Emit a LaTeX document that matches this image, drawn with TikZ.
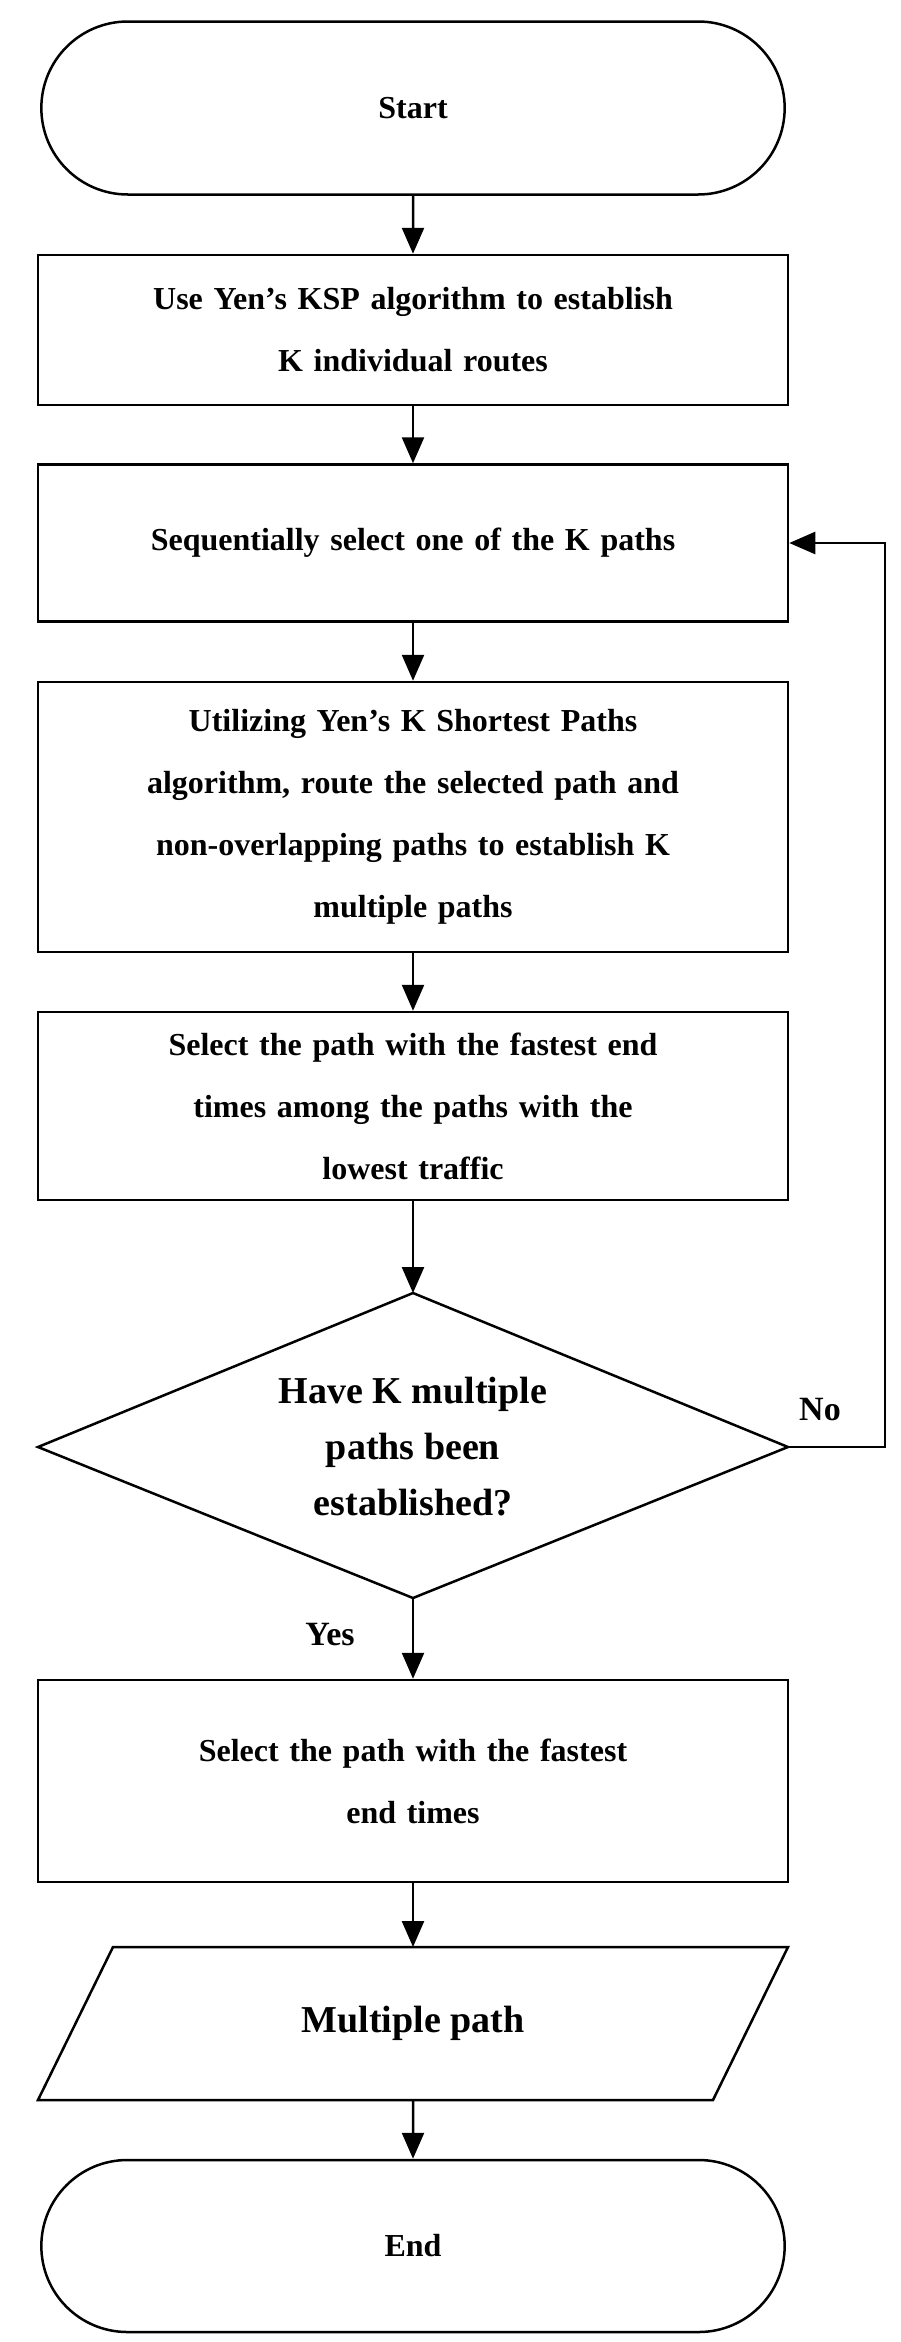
\documentclass[tikz,border=0pt]{standalone}
\usepackage{fontspec}
\setmainfont{Liberation Serif}
\usetikzlibrary{shapes.geometric,shapes.misc,arrows.meta}
\begin{document}
\begin{tikzpicture}[x=1pt,y=-1pt,
  every node/.style={font=\bfseries\fontsize{32}{62}\selectfont,align=center,draw,line width=2.5pt},
  box/.style={rectangle,minimum width=750pt,text width=700pt},
  arr/.style={line width=2.5pt,-{Triangle[length=26pt,width=22pt]}},
  lab/.style={draw=none,font=\bfseries\fontsize{34}{40}\selectfont}]
\useasboundingbox (0,0) rectangle (900,2342);
\node[rounded rectangle,minimum width=750pt,minimum height=173pt] (s) at (413,108) {Start};
\node[box,minimum height=150pt] (b1) at (413,330) {Use Yen’s KSP algorithm to establish\\K individual routes};
\node[box,minimum height=157pt] (b2) at (413,543) {Sequentially select one of the K paths};
\node[box,minimum height=270pt] (b3) at (413,817) {Utilizing Yen's K Shortest Paths\\algorithm, route the selected path and\\non-overlapping paths to establish K\\multiple paths};
\node[box,minimum height=188pt] (b4) at (413,1106) {Select the path with the fastest end\\times among the paths with the\\lowest traffic};
\draw[line width=2.5pt] (38,1447) -- (413,1293) -- (788,1447) -- (413,1598) -- cycle;
\node[draw=none,font=\bfseries\fontsize{38}{56}\selectfont] (d) at (413,1447) {Have K multiple\\paths been\\established?};
\coordinate (dt) at (413,1293); \coordinate (db) at (413,1598); \coordinate (dr) at (788,1447);
\node[box,minimum height=202pt] (b5) at (413,1781) {Select the path with the fastest\\end times};
\draw[line width=2.5pt] (113,1947) -- (788,1947) -- (713,2100) -- (38,2100) -- cycle;
\node[draw=none,font=\bfseries\fontsize{38}{44}\selectfont] (p) at (413,2023) {Multiple path};
\coordinate (pt) at (413,1947); \coordinate (pb) at (413,2100);
\node[rounded rectangle,minimum width=750pt,minimum height=172pt] (e) at (413,2246) {End};
\draw[arr] (s) -- (b1);
\draw[arr] (b1) -- (b2);
\draw[arr] (b2) -- (b3);
\draw[arr] (b3) -- (b4);
\draw[arr] (b4) -- (dt);
\draw[arr] (db) -- (b5);
\draw[arr] (b5) -- (pt);
\draw[arr] (pb) -- (e);
\coordinate (c1) at (885,1447); \coordinate (c2) at (885,543);
\draw[arr] (dr) -- (c1) -- (c2) -- (b2.east);
\node[lab] (no) at (820,1410) {No};
\node[lab] (yes) at (330,1635) {Yes};
\end{tikzpicture}
\end{document}
